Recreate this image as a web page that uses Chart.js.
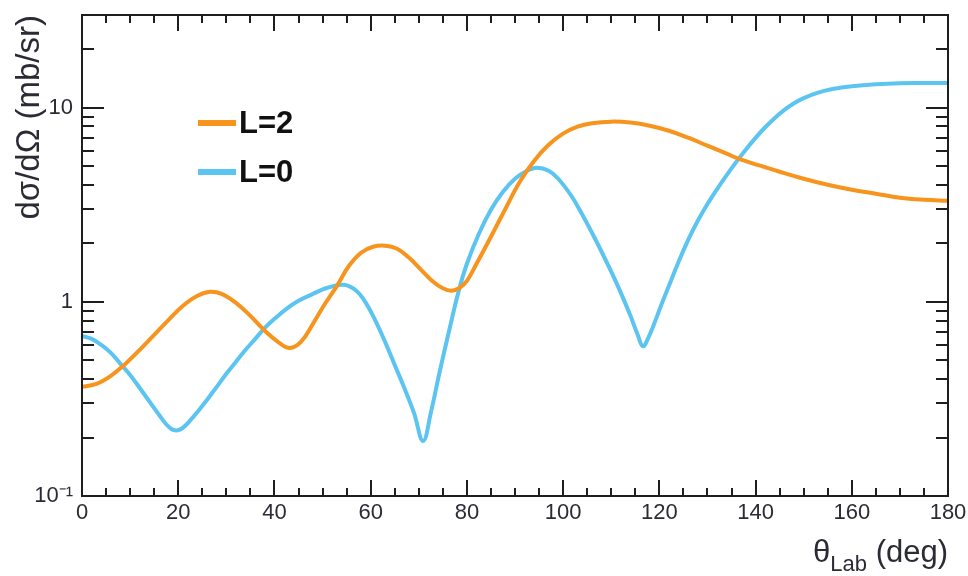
<!DOCTYPE html>
<html>
<head>
<meta charset="utf-8">
<script src="https://cdn.jsdelivr.net/npm/chart.js@4.4.1/dist/chart.umd.min.js"></script>
<style>
  body { margin: 0; background: #fff; }
  canvas { display: block; }
</style>
</head>
<body>
<canvas id="myChart" width="968" height="576"></canvas>
<script>
// Datos

const anglesL2 = [0, 3, 6, 9, 12, 15, 18, 21, 24, 26.6, 29, 32, 35, 38, 41, 43.2, 45.5, 48, 50.5, 53, 55.5, 58, 60.5, 63, 65.5, 68, 70.5, 73, 75, 76.8, 78.5, 80, 82, 85, 88, 91, 94, 97, 100, 103, 106, 110, 114, 118, 122, 126, 130, 134, 137, 141, 145, 150, 155, 160, 165, 170, 175, 180];
const valuesL2 = [0.365, 0.378, 0.416, 0.479, 0.566, 0.676, 0.808, 0.954, 1.074, 1.127, 1.099, 0.988, 0.847, 0.709, 0.615, 0.579, 0.622, 0.770, 0.977, 1.209, 1.533, 1.790, 1.921, 1.944, 1.876, 1.686, 1.462, 1.268, 1.174, 1.140, 1.181, 1.283, 1.570, 2.163, 3.013, 4.154, 5.333, 6.442, 7.345, 7.980, 8.318, 8.472, 8.375, 8.075, 7.606, 7.000, 6.368, 5.792, 5.395, 5.023, 4.677, 4.305, 4.009, 3.777, 3.603, 3.436, 3.355, 3.316];

const anglesL0 = [0, 2, 4, 6, 8, 10, 12, 14, 16, 17.5, 18.5, 19.3, 20.2, 21.2, 22.5, 24, 26, 28, 30, 32, 34, 36, 38, 40, 42.5, 45, 48, 51, 54.5, 57, 59, 61, 63, 65, 67, 69, 70.9, 72.5, 74.3, 76.4, 78.2, 80, 82.5, 85, 87.5, 90, 92.5, 94.6, 97, 99, 101.7, 104, 106, 108, 110, 112, 114, 115.5, 116.6, 117.7, 119, 120.5, 122, 124, 126, 128, 130, 132, 134, 136, 138, 140, 142, 144, 146, 148, 150, 153, 156, 160, 165, 170, 175, 180];
const valuesL0 = [0.668, 0.644, 0.600, 0.546, 0.479, 0.420, 0.360, 0.307, 0.262, 0.234, 0.222, 0.218, 0.219, 0.227, 0.245, 0.271, 0.313, 0.365, 0.426, 0.491, 0.566, 0.644, 0.734, 0.817, 0.920, 1.012, 1.099, 1.181, 1.224, 1.140, 0.988, 0.798, 0.622, 0.473, 0.360, 0.268, 0.192, 0.268, 0.431, 0.726, 1.112, 1.570, 2.243, 2.979, 3.690, 4.305, 4.735, 4.909, 4.735, 4.305, 3.518, 2.807, 2.268, 1.811, 1.429, 1.112, 0.847, 0.676, 0.590, 0.652, 0.780, 0.977, 1.209, 1.608, 2.087, 2.615, 3.187, 3.805, 4.494, 5.256, 6.090, 6.986, 7.925, 8.855, 9.743, 10.54, 11.20, 11.95, 12.47, 12.89, 13.20, 13.36, 13.39, 13.40];

const seriesNames = ['L=2', 'L=0'];
const seriesColors = ['#f7941d', '#5bc4f1'];

const xTicks = [0, 20, 40, 60, 80, 100, 120, 140, 160, 180];
const yTicks = [0.1, 1, 10];
const yTickLabels = ['10⁻¹', '1', '10'];

const fuente = "'Liberation Sans', Arial, sans-serif";
const tinta = '#2b2b35';

let puntos = (xs, ys) => xs.map((x, i) => ({ x: x, y: ys[i] }));

// Marco, marcas hacia dentro, leyenda y titulo del eje x

const marco = {
    id: 'marco',
    afterDraw(chart) {
        const c = chart.ctx;
        const a = chart.chartArea;
        const sx = chart.scales.x;
        const sy = chart.scales.y;
        let linea = (x1, y1, x2, y2) => {
            c.beginPath(); c.moveTo(x1, y1); c.lineTo(x2, y2); c.stroke();
        };
        c.save();
        c.strokeStyle = '#1e1e1e';
        c.lineWidth = 2;
        c.strokeRect(a.left, a.top, a.right - a.left, a.bottom - a.top);

        for (let v = 0; v <= 180; v += 5) {
            const px = Math.round(sx.getPixelForValue(v));
            const len = v % 20 === 0 ? 16 : 8;
            linea(px, a.bottom, px, a.bottom - len);
            linea(px, a.top, px, a.top + len);
        }
        [0.1, 1, 10].forEach(dec => {
            for (let k = 1; k <= 9; k++) {
                const v = k * dec;
                if (v > sy.max + 1e-9) continue;
                const py = Math.round(sy.getPixelForValue(v));
                const len = k === 1 ? 22 : 12;
                linea(a.left, py, a.left + len, py);
                linea(a.right, py, a.right - len, py);
            }
        });

        // leyenda
        const ly = [a.top + 108, a.top + 157];
        seriesNames.forEach((n, i) => {
            c.strokeStyle = seriesColors[i];
            c.lineWidth = 6;
            linea(a.left + 116, ly[i], a.left + 154, ly[i]);
            c.fillStyle = '#111';
            c.font = 'bold 31px ' + fuente;
            c.textBaseline = 'middle';
            c.textAlign = 'left';
            c.fillText(n, a.left + 157, ly[i] + 1);
        });

        // titulo eje x con subindice
        c.fillStyle = tinta;
        c.textBaseline = 'alphabetic';
        c.textAlign = 'left';
        const base = a.bottom + 66;
        c.font = '31px ' + fuente;
        const wTheta = c.measureText('θ').width;
        const wResto = c.measureText(' (deg)').width;
        c.font = '22px ' + fuente;
        const wSub = c.measureText('Lab').width;
        let x0 = a.right - (wTheta + wSub + wResto);
        c.font = '31px ' + fuente;
        c.fillText('θ', x0, base);
        c.font = '22px ' + fuente;
        c.fillText('Lab', x0 + wTheta, base + 9);
        c.font = '31px ' + fuente;
        c.fillText(' (deg)', x0 + wTheta + wSub, base);
        c.restore();
    }
};

const ctx = document.getElementById('myChart').getContext('2d');

const myChart = new Chart(ctx, {
    type: 'line',
    data: {
        datasets: [
            {
                label: seriesNames[0],
                data: puntos(anglesL2, valuesL2),
                borderColor: seriesColors[0],
                borderWidth: 4,
                pointRadius: 0,
                tension: 0.4,
                fill: false
            },
            {
                label: seriesNames[1],
                data: puntos(anglesL0, valuesL0),
                borderColor: seriesColors[1],
                borderWidth: 4,
                pointRadius: 0,
                tension: 0.4,
                fill: false
            }
        ]
    },
    options: {
        responsive: false,
        animation: false,
        layout: { padding: { top: 15, right: 20, left: 0, bottom: 0 } },
        plugins: {
            legend: { display: false },
            tooltip: { enabled: false }
        },
        scales: {
            x: {
                type: 'linear',
                min: 0,
                max: 180,
                afterFit: s => { s.height = 80; s.paddingLeft = 0; s.paddingRight = 0; },
                afterBuildTicks: s => { s.ticks = xTicks.map(v => ({ value: v })); },
                grid: { display: false, drawTicks: false },
                border: { display: false },
                ticks: {
                    padding: 4,
                    maxRotation: 0,
                    autoSkip: false,
                    color: tinta,
                    font: { family: fuente, size: 22 }
                }
            },
            y: {
                type: 'logarithmic',
                min: 0.1,
                max: 30,
                afterFit: s => { s.width = 82; s.paddingTop = 0; s.paddingBottom = 0; },
                afterBuildTicks: s => { s.ticks = yTicks.map(v => ({ value: v })); },
                grid: { display: false, drawTicks: false },
                border: { display: false },
                ticks: {
                    padding: 9,
                    autoSkip: false,
                    color: tinta,
                    font: { family: fuente, size: 22 },
                    callback: (v) => {
                        const i = yTicks.findIndex(t => Math.abs(t - v) < 1e-9);
                        return i >= 0 ? yTickLabels[i] : '';
                    }
                },
                title: {
                    display: true,
                    text: 'dσ/dΩ (mb/sr)',
                    align: 'end',
                    color: tinta,
                    font: { family: fuente, size: 33 },
                    padding: { top: 10, bottom: 0 }
                }
            }
        }
    },
    plugins: [marco]
});
</script>
</body>
</html>
